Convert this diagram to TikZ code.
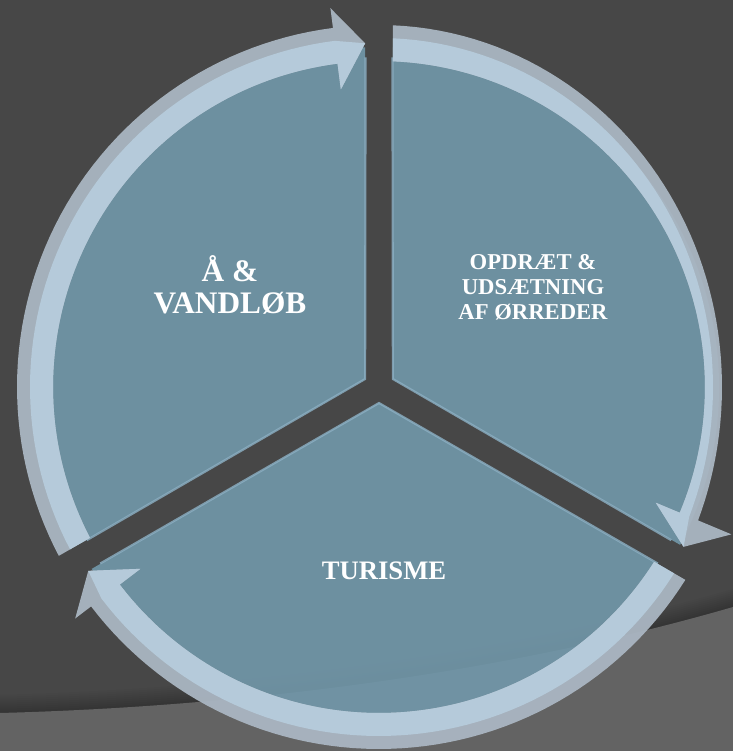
\documentclass[tikz,border=0pt]{standalone}
\usepackage{fontspec}
\setmainfont{Liberation Serif}
\begin{document}
\begin{tikzpicture}[x=0.75pt,y=0.75pt,
  segtext/.style={text=white,align=center,font=\bfseries},
  segfillstyle/.style={fill=segfill,fill opacity=0.9},
  bevel/.style={draw=bevelc,line width=1.6pt,draw opacity=0.8},
  rimstyle/.style={fill=rimout,fill opacity=0.95},
  riminner/.style={fill=rimin,fill opacity=0.95}]
\definecolor{bgdark}{RGB}{71,71,71}
\definecolor{bglight}{RGB}{99,99,99}
\definecolor{segfill}{RGB}{114,152,170}
\definecolor{bevelc}{RGB}{140,176,196}
\definecolor{rimout}{RGB}{170,182,194}
\definecolor{rimin}{RGB}{182,204,220}
\useasboundingbox (0,0) rectangle (733,751);
\fill[bgdark] (0,0) rectangle (733,751);
\foreach \s in {2,4,...,18} {
  \fill[black,fill opacity=0.025] (0,0) -- (0,{38+\s}) .. controls (300,{46+\s}) and (550,{91+\s}) .. (733,{144+\s}) -- (733,0) -- cycle;
}
\fill[bglight] (0,0) -- (0,38) .. controls (300,46) and (550,91) .. (733,144) -- (733,0) -- cycle;
\begin{scope}[shift={(379,364)}]
\foreach \b/\k/\km in {150/0/0,30/19/15,270/0/0} {
  \pgfmathsetmacro\ax{16*cos(\b)}
  \pgfmathsetmacro\ay{16*sin(\b)}
  \pgfmathsetmacro\df{asin(13.86/340)}
  \fill[segfillstyle] (\ax,\ay) -- ({\b-60+\df}:340) arc[start angle={\b-60+\df}, end angle={\b+60-\df}, radius=340] -- cycle;
  \draw[bevel] ({\b-60+\df}:330) -- (\ax,\ay) -- ({\b+60-\df}:330);
  \pgfmathsetmacro\tts{\b+60-asin(13.86/362)}
  \pgfmathsetmacro\tms{\b+60-asin(13.86/349)}
  \pgfmathsetmacro\tis{\b+60-asin(13.86/326)}
  \pgfmathsetmacro\tt{\b-60+asin(13.86/344)}
  \pgfmathsetmacro\tb{\tt+5}
  \fill[rimstyle] plot[domain=\tts:\tb,samples=60,variable=\t] (\t:{362-\k*cos(\t)^2}) -- (\tb:382) -- (\tt:344) -- (\tb:300) -- (\tb:326) arc[start angle=\tb, end angle=\tis, radius=326] -- cycle;
  \fill[riminner] plot[domain=\tms:\tb,samples=60,variable=\t] (\t:{349-\km*cos(\t)^2}) -- (\tt:344) -- (\tb:300) -- (\tb:326) arc[start angle=\tb, end angle=\tis, radius=326] -- cycle;
}
\end{scope}
\node[segtext,font=\bfseries\fontsize{23.5}{24}\selectfont] (vand) at (230,466) {Å \&\\VANDLØB};
\node[segtext,font=\bfseries\fontsize{17}{18.75}\selectfont] (opd) at (533,464) {OPDRÆT \&\\UDSÆTNING\\AF ØRREDER};
\node[segtext,font=\bfseries\fontsize{20}{22}\selectfont] (tur) at (384,180) {TURISME};
\end{tikzpicture}
\end{document}
